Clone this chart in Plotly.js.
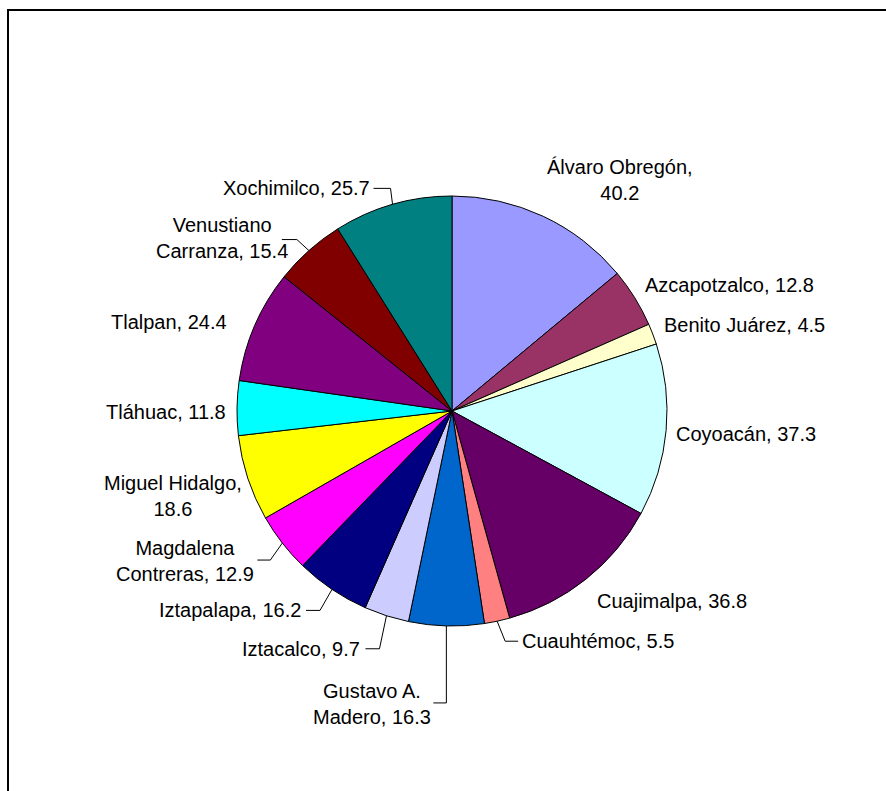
<!DOCTYPE html>
<html>
<head>
<meta charset="utf-8">
<script src="https://cdn.plot.ly/plotly-3.0.1.min.js"></script>
<style>html,body{margin:0;padding:0;background:#fff;}#chart{width:886px;height:791px;}</style>
</head>
<body>
<div id="chart"></div>
<script>
// ---- data ----
const delegaciones = ["Álvaro Obregón","Azcapotzalco","Benito Juárez","Coyoacán","Cuajimalpa","Cuauhtémoc","Gustavo A. Madero","Iztacalco","Iztapalapa","Magdalena Contreras","Miguel Hidalgo","Tláhuac","Tlalpan","Venustiano Carranza","Xochimilco"];
const valores = [40.2, 12.8, 4.5, 37.3, 36.8, 5.5, 16.3, 9.7, 16.2, 12.9, 18.6, 11.8, 24.4, 15.4, 25.7];
// label text with line wraps as in the original
const etiquetas = ["Álvaro Obregón,<br>40.2","Azcapotzalco, 12.8","Benito Juárez, 4.5","Coyoacán, 37.3","Cuajimalpa, 36.8","Cuauhtémoc, 5.5","Gustavo A.<br>Madero, 16.3","Iztacalco, 9.7","Iztapalapa, 16.2","Magdalena<br>Contreras, 12.9","Miguel Hidalgo,<br>18.6","Tláhuac, 11.8","Tlalpan, 24.4","Venustiano<br>Carranza, 15.4","Xochimilco, 25.7"];

// ---- style ----
const colores = ["#9999FF","#993366","#FFFFCC","#CCFFFF","#660066","#FF8080","#0066CC","#CCCCFF","#000080","#FF00FF","#FFFF00","#00FFFF","#800080","#800000","#008080"];
const W = 886, H = 791;
const CX = 452, CY = 411, R = 215;
// label offset from slice edge midpoint [dx, dy, xanchor]
const labelOff = [[77,-36,"center"],[8,-13,"left"],[9,-9,"left"],[8,4,"left"],[9,22,"left"],[23,20,"left"],[-74,78,"center"],[-24,33,"right"],[-29,21,"right"],[-97,18,"center"],[-75,18,"center"],[-9,4,"right"],[-26,-4,"right"],[-87,-13,"center"],[-21,-16,"right"]];
// leader elbows relative to slice edge: [elbowDx, elbowDy, endDx, endDy] or null
const leaders = [null,null,null,null,null,[8,20,21,20],[0,77,-13,77],[-7,33,-21,33],[-12,21,-26,21],[-12,17,-25,17],null,null,null,[-12,-11,-27,-11],[-2,-16,-19,-16]];

const px = x => x / W;
const py = y => 1 - y / H;

const total = valores.reduce((a,b)=>a+b,0);
let cum = 0;
const annotations = [];
const shapes = [];
valores.forEach((v,i)=>{
  const mid = (cum + v/2) / total * 2 * Math.PI;
  cum += v;
  const ex = CX + R*Math.sin(mid), ey = CY - R*Math.cos(mid);
  const o = labelOff[i];
  annotations.push({
    xref:'paper', yref:'paper', x: px(ex+o[0]), y: py(ey+o[1]),
    xanchor:o[2], yanchor:'middle', align:'center', showarrow:false,
    text: etiquetas[i], font:{family:'Liberation Sans, Arial, sans-serif', size:20, color:'#000'}
  });
  const l = leaders[i];
  if (l) {
    shapes.push({
      type:'path', xref:'paper', yref:'paper',
      path:`M ${px(ex)} ${py(ey)} L ${px(ex+l[0])} ${py(ey+l[1])} L ${px(ex+l[2])} ${py(ey+l[3])}`,
      line:{color:'#000', width:1}
    });
  }
});
// chart frame
shapes.push({type:'rect', xref:'paper', yref:'paper', x0:px(8), y0:-0.1, x1:1.1, y1:py(10), line:{color:'#000', width:2}, fillcolor:'rgba(0,0,0,0)'});

const trace = {
  type:'pie', labels: delegaciones, values: valores, sort:false, direction:'clockwise', rotation:0,
  marker:{colors: colores, line:{color:'#000', width:1}},
  textinfo:'none', hoverinfo:'label+value',
  domain:{x:[px(CX-R), px(CX+R)], y:[py(CY+R), py(CY-R)]}
};
const layout = {
  width: W, height: H, margin:{l:0,r:0,t:0,b:0}, showlegend:false,
  paper_bgcolor:'#fff', annotations, shapes
};
Plotly.newPlot('chart', [trace], layout, {displayModeBar:false, staticPlot:true});
</script>
</body>
</html>
